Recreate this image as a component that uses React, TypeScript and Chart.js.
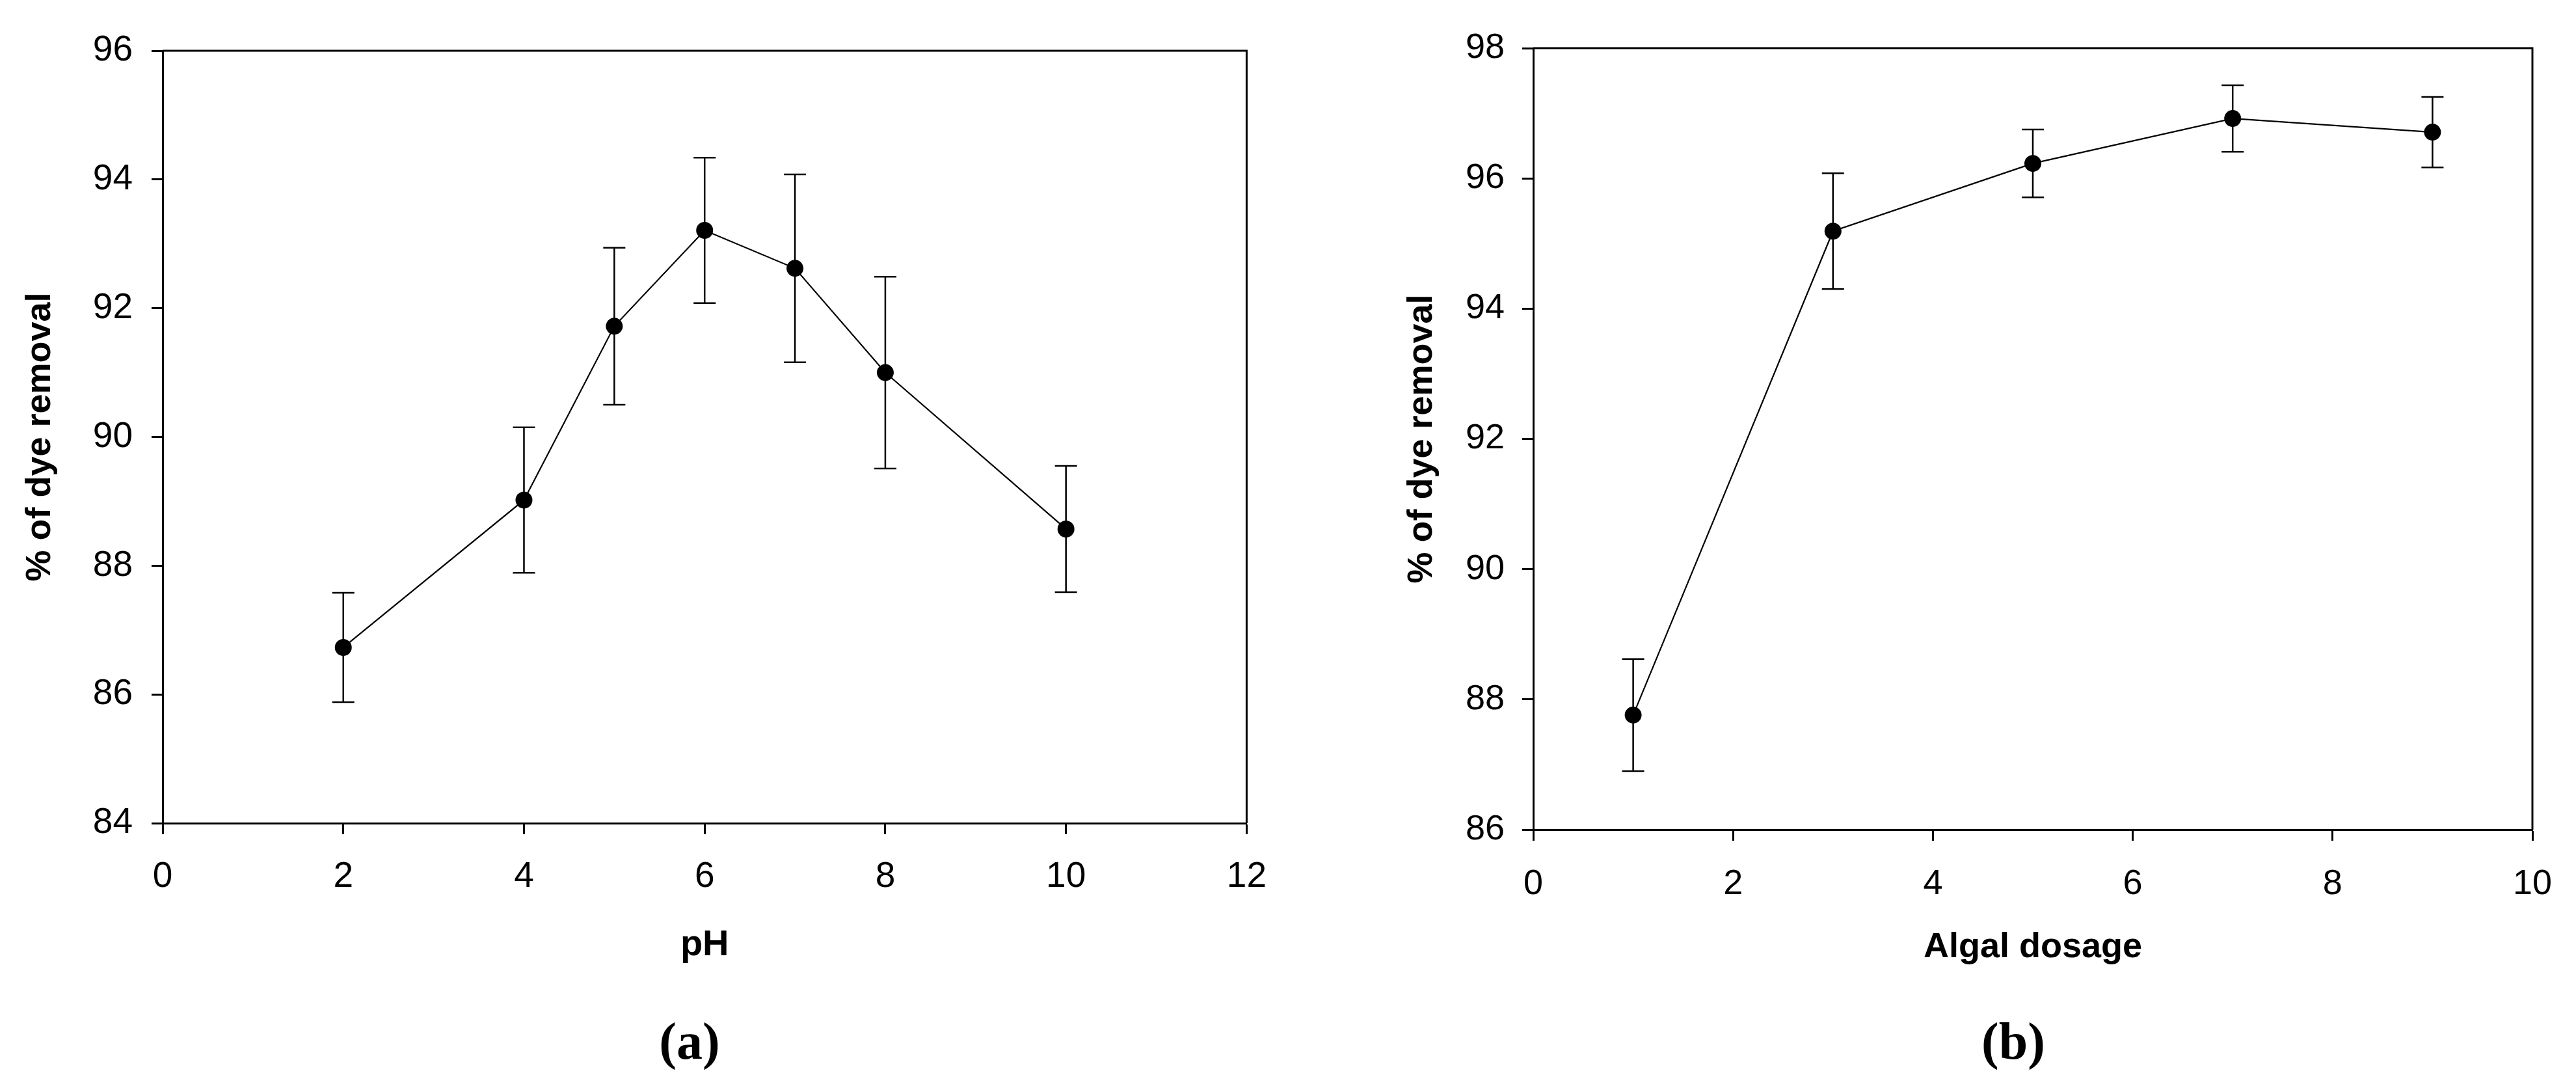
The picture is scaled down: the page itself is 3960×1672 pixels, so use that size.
import React, { useEffect, useRef } from "react";
import { Chart, registerables } from "chart.js";

Chart.register(...registerables);

// ---- Data: panel (a) pH ----
const PH_VALUES = [2, 4, 5, 6, 7, 8, 10];
const PH_REMOVAL = [86.73, 89.02, 91.72, 93.21, 92.62, 91.0, 88.57];
const PH_ERROR = [0.85, 1.13, 1.22, 1.13, 1.46, 1.49, 0.98];
const PH_X_TICKS = [0, 2, 4, 6, 8, 10, 12];
const PH_Y_TICKS = [84, 86, 88, 90, 92, 94, 96];

// ---- Data: panel (b) algal dosage ----
const DOSE_VALUES = [1, 3, 5, 7, 9];
const DOSE_REMOVAL = [87.76, 95.19, 96.23, 96.92, 96.71];
const DOSE_ERROR = [0.86, 0.89, 0.52, 0.51, 0.54];
const DOSE_X_TICKS = [0, 2, 4, 6, 8, 10];
const DOSE_Y_TICKS = [86, 88, 90, 92, 94, 96, 98];

const SANS = '"Liberation Sans", Arial, Helvetica, sans-serif';
const SERIF = '"Liberation Serif", "Times New Roman", serif';

type PanelSpec = {
  xs: number[];
  ys: number[];
  errs: number[];
  xTicks: number[];
  yTicks: number[];
  xTitle: string;
  yTitle: string;
  panelLabel: string;
  labelPos: [number, number];
  padRight: number;
  padTop: number;
  yAxisWidth: number;
  xAxisHeight: number;
  tickFont: number;
  xTitleFont: number;
  xTitlePadBottom: number;
  yTitlePadTop: number;
  yLabelPad: number;
  xLabelPad: number;
};

function makeChart(canvas: HTMLCanvasElement, s: PanelSpec) {
  const errorBars = {
    id: "errorBars",
    beforeDatasetsDraw(chart: any) {
      const { ctx, scales } = chart;
      const x = scales.x;
      const y = scales.y;
      const cap = 17;
      ctx.save();
      ctx.strokeStyle = "#000";
      ctx.lineWidth = 2.5;
      s.xs.forEach((xv, i) => {
        const px = x.getPixelForValue(xv);
        const yt = y.getPixelForValue(s.ys[i] + s.errs[i]);
        const yb = y.getPixelForValue(s.ys[i] - s.errs[i]);
        ctx.beginPath();
        ctx.moveTo(px, yt);
        ctx.lineTo(px, yb);
        ctx.moveTo(px - cap, yt);
        ctx.lineTo(px + cap, yt);
        ctx.moveTo(px - cap, yb);
        ctx.lineTo(px + cap, yb);
        ctx.stroke();
      });
      ctx.restore();
    },
  };

  const frame = {
    id: "frame",
    afterDraw(chart: any) {
      const { ctx, chartArea: a } = chart;
      ctx.save();
      ctx.strokeStyle = "#000";
      ctx.lineWidth = 3;
      ctx.beginPath();
      ctx.moveTo(a.left, a.top);
      ctx.lineTo(a.right, a.top);
      ctx.lineTo(a.right, a.bottom);
      ctx.stroke();
      ctx.font = `bold 80px ${SERIF}`;
      ctx.fillStyle = "#000";
      ctx.textAlign = "center";
      ctx.textBaseline = "middle";
      ctx.fillText(s.panelLabel, s.labelPos[0], s.labelPos[1]);
      ctx.restore();
    },
  };

  return new Chart(canvas, {
    type: "line",
    data: {
      datasets: [
        {
          data: s.xs.map((xv, i) => ({ x: xv, y: s.ys[i] })),
          borderColor: "#000",
          borderWidth: 2.2,
          pointRadius: 13,
          pointHoverRadius: 13,
          pointBackgroundColor: "#000",
          pointBorderColor: "#000",
          pointBorderWidth: 0,
          tension: 0,
          fill: false,
          clip: false as any,
        },
      ],
    },
    options: {
      responsive: false,
      animation: false,
      devicePixelRatio: 1,
      events: [],
      layout: {
        padding: { left: 0, right: s.padRight, top: s.padTop, bottom: 0 },
      },
      plugins: {
        legend: { display: false },
        tooltip: { enabled: false },
        title: { display: false },
      },
      scales: {
        x: {
          type: "linear",
          min: s.xTicks[0],
          max: s.xTicks[s.xTicks.length - 1],
          afterBuildTicks: (scale: any) => {
            scale.ticks = s.xTicks.map((v) => ({ value: v }));
          },
          afterFit: (scale: any) => {
            scale.height = s.xAxisHeight;
          },
          grid: {
            display: true,
            drawOnChartArea: false,
            drawTicks: true,
            tickLength: 17,
            tickWidth: 3,
            tickColor: "#000",
            color: "#000",
          },
          border: { display: true, color: "#000", width: 3 },
          ticks: {
            color: "#000",
            font: { family: SANS, size: s.tickFont },
            padding: s.xLabelPad,
            maxRotation: 0,
            autoSkip: false,
          },
          title: {
            display: true,
            text: s.xTitle,
            color: "#000",
            font: { family: SANS, size: s.xTitleFont, weight: "bold" },
            padding: { top: 0, bottom: s.xTitlePadBottom },
          },
        },
        y: {
          type: "linear",
          min: s.yTicks[0],
          max: s.yTicks[s.yTicks.length - 1],
          afterBuildTicks: (scale: any) => {
            scale.ticks = s.yTicks.map((v) => ({ value: v }));
          },
          afterFit: (scale: any) => {
            scale.width = s.yAxisWidth;
          },
          grid: {
            display: true,
            drawOnChartArea: false,
            drawTicks: true,
            tickLength: 17,
            tickWidth: 3,
            tickColor: "#000",
            color: "#000",
          },
          border: { display: true, color: "#000", width: 3 },
          ticks: {
            color: "#000",
            font: { family: SANS, size: s.tickFont },
            padding: s.yLabelPad,
            autoSkip: false,
          },
          title: {
            display: true,
            text: s.yTitle,
            color: "#000",
            font: { family: SANS, size: 54, weight: "bold" },
            padding: { top: s.yTitlePadTop, bottom: 0 },
          },
        },
      },
    },
    plugins: [errorBars, frame],
  } as any);
}

const PANEL_A: PanelSpec = {
  xs: PH_VALUES,
  ys: PH_REMOVAL,
  errs: PH_ERROR,
  xTicks: PH_X_TICKS,
  yTicks: PH_Y_TICKS,
  xTitle: "pH",
  yTitle: "% of dye removal",
  panelLabel: "(a)",
  labelPos: [1060, 1606],
  padRight: 46,
  padTop: 78,
  yAxisWidth: 250,
  xAxisHeight: 1672 - 1265,
  tickFont: 55,
  xTitleFont: 56,
  xTitlePadBottom: 186,
  yTitlePadTop: 30,
  yLabelPad: 29,
  xLabelPad: 33,
};

const PANEL_B: PanelSpec = {
  xs: DOSE_VALUES,
  ys: DOSE_REMOVAL,
  errs: DOSE_ERROR,
  xTicks: DOSE_X_TICKS,
  yTicks: DOSE_Y_TICKS,
  xTitle: "Algal dosage",
  yTitle: "% of dye removal",
  panelLabel: "(b)",
  labelPos: [1115, 1606],
  padRight: 67,
  padTop: 74,
  yAxisWidth: 377,
  xAxisHeight: 1672 - 1275,
  tickFont: 54,
  xTitleFont: 54,
  xTitlePadBottom: 183,
  yTitlePadTop: 174,
  yLabelPad: 27,
  xLabelPad: 35,
};

function Panel({ spec, left }: { spec: PanelSpec; left: number }) {
  const ref = useRef<HTMLCanvasElement | null>(null);
  useEffect(() => {
    if (!ref.current) return;
    const chart = makeChart(ref.current, spec);
    return () => chart.destroy();
  }, [spec]);
  return (
    <canvas
      ref={ref}
      width={1980}
      height={1672}
      style={{ position: "absolute", left, top: 0, width: 1980, height: 1672 }}
    />
  );
}

export default function App() {
  return (
    <div
      style={{
        position: "absolute",
        left: 0,
        top: 0,
        width: 3960,
        height: 1672,
        background: "#fff",
        overflow: "hidden",
      }}
    >
      <Panel spec={PANEL_A} left={0} />
      <Panel spec={PANEL_B} left={1980} />
    </div>
  );
}
